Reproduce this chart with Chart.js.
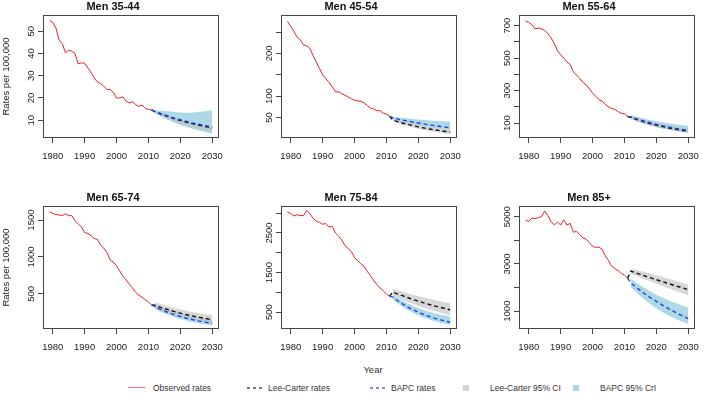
<!DOCTYPE html>
<html>
<head>
<meta charset="utf-8">
<script src="https://cdn.jsdelivr.net/npm/chart.js@4.4.0/dist/chart.umd.min.js"></script>
<style>
  body { margin: 0; background: #fff; width: 707px; height: 407px; position: relative; overflow: hidden;
         font-family: "Liberation Sans", Arial, sans-serif; color: #222; }
  canvas { position: absolute; }
  .txt { position: absolute; font-size: 8.5px; line-height: 12px; white-space: nowrap; color: #333; }
  .sw { position: absolute; }
</style>
</head>
<body>
<div class="txt" style="left:343px;top:364px;width:60px;text-align:center;font-size:9.5px;">Year</div>

<!-- legend -->
<div class="sw" style="left:128px;top:387px;width:17px;height:0;border-top:1.5px solid #e87070;"></div>
<div class="txt" style="left:153px;top:382px;">Observed rates</div>
<div class="sw" style="left:247px;top:387px;width:16px;height:1.5px;background:repeating-linear-gradient(90deg,#777 0 3px,transparent 3px 6px);"></div>
<div class="txt" style="left:268px;top:382px;">Lee-Carter rates</div>
<div class="sw" style="left:370px;top:387px;width:16px;height:1.5px;background:repeating-linear-gradient(90deg,#8888dd 0 3px,transparent 3px 6px);"></div>
<div class="txt" style="left:391px;top:382px;">BAPC rates</div>
<div class="sw" style="left:463px;top:385px;width:6px;height:6px;background:#d3d3d3;"></div>
<div class="txt" style="left:490px;top:382px;">Lee-Carter 95% CI</div>
<div class="sw" style="left:573px;top:385px;width:6px;height:6px;background:#add8e6;"></div>
<div class="txt" style="left:600px;top:382px;">BAPC 95% CrI</div>

<script>
// ── 연도 (observed 1979-2011, forecast 2012-2030) ──
const obsYears = Array.from({ length: 33 }, (_, i) => 1979 + i);
const fcYears = Array.from({ length: 19 }, (_, i) => 2012 + i);
const xTicks = [1980, 1990, 2000, 2010, 2020, 2030];

// ── Men 35-44 ──
const obs3544 = [54.8, 54.0, 51.5, 46.0, 44.5, 40.3, 41.5, 41.0, 40.0, 35.3, 35.8, 35.6, 33.5, 31.5, 29.0, 27.2, 26.5,
  25.3, 23.8, 23.8, 22.5, 20.0, 20.0, 20.5, 18.5, 17.8, 18.3, 17.0, 16.2, 16.8, 15.3, 14.8, 14.6];
const lc3544 = [13.8, 13.2, 12.7, 12.2, 11.7, 11.2, 10.7, 10.3, 9.9, 9.5, 9.1, 8.7, 8.4, 8.0, 7.7, 7.4, 7.1, 6.8, 6.5];
const lcLo3544 = [13.3, 12.6, 12.0, 11.4, 10.8, 10.2, 9.7, 9.2, 8.7, 8.2, 7.8, 7.4, 7.0, 6.6, 6.2, 5.9, 5.5, 5.2, 4.9];
const lcHi3544 = [14.0, 13.5, 13.0, 12.5, 12.0, 11.6, 11.1, 10.7, 10.3, 9.9, 9.5, 9.2, 8.8, 8.5, 8.2, 7.9, 7.6, 7.3, 7.0];
const bapc3544 = [14.0, 13.4, 12.9, 12.4, 11.9, 11.4, 11.0, 10.6, 10.2, 9.8, 9.4, 9.0, 8.7, 8.4, 8.1, 7.8, 7.5, 7.2, 7.0];
const bapcLo3544 = [13.2, 12.4, 11.6, 10.9, 10.2, 9.6, 9.0, 8.4, 7.9, 7.4, 6.9, 6.5, 6.1, 5.7, 5.3, 5.0, 4.6, 4.3, 4.0];
const bapcHi3544 = [14.6, 14.4, 14.3, 14.1, 14.0, 13.9, 13.7, 13.6, 13.5, 13.4, 13.4, 13.4, 13.5, 13.6, 13.8, 13.9, 14.1, 14.3, 14.6];
const yTicks3544 = [10, 20, 30, 40, 50];
const yLabels3544 = ['10', '20', '30', '40', '50'];

// ── Men 45-54 ──
const obs4554 = [275, 263, 252, 238, 232, 220, 218, 212, 195, 180, 165, 150, 141, 132, 122, 110, 110, 106, 102, 98, 94,
  90, 89, 88, 84, 78, 72, 70, 66, 66, 60, 58, 53];
const lc4554 = [44, 41.6, 39.3, 37.1, 35.1, 33.2, 31.4, 29.7, 28.1, 26.5, 25.1, 23.7, 22.4, 21.2, 20.0, 18.9, 17.9, 16.9, 16.0];
const lcLo4554 = [41, 38.2, 35.6, 33.2, 31.0, 28.9, 27.0, 25.2, 23.6, 22.0, 20.6, 19.2, 17.9, 16.7, 15.5, 14.4, 13.3, 12.2, 11.2];
const lcHi4554 = [47, 45.0, 43.0, 41.1, 39.3, 37.6, 36.0, 34.4, 32.9, 31.5, 30.2, 28.9, 27.7, 26.6, 25.5, 24.5, 23.5, 22.6, 21.7];
const bapc4554 = [49, 47.3, 45.7, 44.1, 42.6, 41.1, 39.7, 38.3, 37.0, 35.7, 34.5, 33.3, 32.1, 31.0, 30.0, 28.9, 27.9, 27.0, 26.0];
const bapcLo4554 = [46, 43.6, 41.4, 39.4, 37.6, 35.9, 34.3, 32.8, 31.4, 30.1, 28.9, 27.8, 26.7, 25.7, 24.7, 23.8, 22.9, 22.0, 21.0];
const bapcHi4554 = [52, 51, 50, 49.2, 48.4, 47.6, 46.8, 46.1, 45.4, 44.7, 44.1, 43.5, 43.0, 42.5, 42.0, 41.6, 41.2, 40.9, 40.6];
const yTicks4554 = [50, 100, 150, 200, 250];
const yLabels4554 = ['50', '100', '', '200', ''];

// ── Men 55-64 ──
const obs5564 = [729, 720, 705, 680, 685, 680, 670, 650, 625, 590, 545, 520, 500, 475, 460, 415, 395, 375, 350, 335, 310,
  285, 265, 245, 235, 215, 200, 190, 185, 170, 160, 158, 140];
const lc5564 = [135, 127.8, 120.9, 114.4, 108.3, 102.5, 97.0, 91.8, 86.8, 82.2, 77.8, 73.6, 69.6, 65.9, 62.4, 59.0, 55.8, 52.8, 50.0];
const lcLo5564 = [124, 116.5, 109.5, 103.0, 96.8, 91.0, 85.6, 80.5, 75.7, 71.2, 66.9, 62.9, 59.1, 55.6, 52.3, 49.2, 46.2, 43.4, 40.8];
const lcHi5564 = [146, 139, 132.5, 126.3, 120.5, 115.0, 109.8, 104.9, 100.2, 95.8, 91.6, 87.6, 83.8, 80.2, 76.8, 73.6, 70.5, 67.6, 65.0];
const bapc5564 = [138, 131.1, 124.6, 118.4, 112.5, 106.9, 101.6, 96.5, 91.7, 87.1, 82.8, 78.7, 74.8, 71.0, 67.5, 64.1, 60.9, 57.9, 55.0];
const bapcLo5564 = [126, 118, 110.5, 103.5, 97.0, 90.9, 85.2, 79.9, 74.9, 70.2, 65.8, 61.7, 57.8, 54.2, 50.8, 47.6, 44.6, 41.8, 39.0];
const bapcHi5564 = [150, 144, 138.5, 133.3, 128.4, 123.8, 119.4, 115.3, 111.4, 107.7, 104.2, 100.9, 97.8, 94.9, 92.2, 89.6, 87.2, 85.0, 83.0];
const yTicks5564 = [100, 200, 300, 400, 500, 600, 700];
const yLabels5564 = ['100', '', '300', '', '500', '', '700'];

// ── Men 65-74 ──
const obs6574 = [1614, 1590, 1575, 1570, 1560, 1585, 1560, 1560, 1490, 1450, 1410, 1330, 1320, 1290, 1250, 1240, 1160,
  1120, 1060, 960, 930, 880, 810, 740, 690, 630, 580, 520, 480, 455, 420, 390, 350];
const lc6574 = [345, 329, 314, 300, 287, 274, 261, 250, 238, 228, 217, 208, 198, 189, 181, 172, 165, 157, 150];
const lcLo6574 = [305, 289, 274, 260, 246, 233, 221, 209, 198, 188, 178, 168, 159, 151, 143, 135, 128, 121, 115];
const lcHi6574 = [385, 371, 357, 344, 332, 320, 308, 297, 287, 277, 267, 258, 250, 242, 234, 227, 220, 214, 210];
const bapc6574 = [325, 304, 285, 267, 250, 234, 219, 206, 193, 180, 169, 158, 148, 139, 130, 122, 114, 107, 100];
const bapcLo6574 = [295, 273, 253, 234, 217, 201, 186, 172, 159, 147, 136, 126, 116, 107, 99, 91, 84, 77, 70];
const bapcHi6574 = [355, 337, 320, 304, 289, 275, 262, 249, 237, 226, 215, 205, 195, 186, 177, 169, 161, 154, 147];
const yTicks6574 = [500, 1000, 1500];
const yLabels6574 = ['500', '1000', '1500'];

// ── Men 75-84 ──
const obs7584 = [3028, 2990, 2930, 2960, 2940, 2940, 3070, 2990, 2870, 2800, 2770, 2720, 2740, 2650, 2670, 2500, 2420,
  2320, 2180, 2110, 2030, 1880, 1800, 1720, 1660, 1530, 1420, 1300, 1200, 1110, 1040, 960, 900];
const lc7584 = [1010, 977, 946, 916, 886, 858, 830, 803, 777, 752, 728, 705, 682, 660, 639, 618, 598, 579, 560];
const lcLo7584 = [930, 890, 852, 816, 781, 748, 716, 685, 656, 628, 601, 575, 551, 527, 505, 483, 463, 443, 425];
const lcHi7584 = [1085, 1060, 1036, 1012, 990, 968, 946, 925, 904, 884, 864, 845, 826, 808, 790, 772, 755, 737, 720];
const bapc7584 = [880, 820, 764, 711, 663, 617, 575, 536, 499, 465, 433, 403, 376, 350, 326, 304, 283, 263, 245];
const bapcLo7584 = [820, 755, 695, 639, 588, 541, 497, 457, 420, 386, 355, 326, 299, 275, 252, 231, 212, 194, 175];
const bapcHi7584 = [940, 888, 839, 793, 750, 710, 673, 638, 606, 576, 548, 522, 498, 476, 456, 437, 420, 405, 392];
const yTicks7584 = [500, 1000, 1500, 2000, 2500, 3000];
const yLabels7584 = ['500', '', '1500', '', '2500', ''];

// ── Men 85+ ──
const obs85 = [4857, 4800, 4950, 4920, 4960, 5000, 5250, 5050, 4800, 4650, 4780, 4650, 4870, 4650, 4720, 4350, 4380,
  4250, 4100, 4050, 3900, 3750, 3700, 3720, 3620, 3350, 3150, 2900, 2800, 2720, 2600, 2520, 2400];
const lc85 = [2700, 2652, 2604, 2558, 2512, 2466, 2421, 2377, 2333, 2289, 2246, 2203, 2160, 2118, 2076, 2034, 1993, 1952, 1910];
const lcLo85 = [2580, 2527, 2474, 2422, 2370, 2318, 2266, 2215, 2164, 2113, 2063, 2013, 1963, 1913, 1864, 1815, 1766, 1717, 1660];
const lcHi85 = [2800, 2768, 2735, 2701, 2666, 2630, 2594, 2557, 2520, 2482, 2444, 2405, 2366, 2327, 2288, 2248, 2208, 2168, 2128];
const bapc85 = [2200, 2085, 1975, 1870, 1770, 1675, 1585, 1500, 1415, 1330, 1248, 1168, 1090, 1015, 943, 874, 808, 745, 685];
const bapcLo85 = [2020, 1885, 1757, 1636, 1522, 1414, 1312, 1215, 1124, 1038, 957, 880, 808, 740, 676, 615, 558, 504, 452];
const bapcHi85 = [2380, 2280, 2185, 2094, 2007, 1924, 1845, 1770, 1698, 1630, 1566, 1505, 1447, 1392, 1340, 1290, 1243, 1198, 1155];
const yTicks85 = [1000, 2000, 3000, 4000, 5000];
const yLabels85 = ['1000', '', '3000', '', '5000'];

const FONT = '"Liberation Sans", Arial, sans-serif';

const panels = [
  { title: 'Men 35-44', obs: obs3544, lc: lc3544, lcLo: lcLo3544, lcHi: lcHi3544, bapc: bapc3544, bapcLo: bapcLo3544, bapcHi: bapcHi3544, yTicks: yTicks3544, yLabels: yLabels3544, yMin: 2, yMax: 57.3 },
  { title: 'Men 45-54', obs: obs4554, lc: lc4554, lcLo: lcLo4554, lcHi: lcHi4554, bapc: bapc4554, bapcLo: bapcLo4554, bapcHi: bapcHi4554, yTicks: yTicks4554, yLabels: yLabels4554, yMin: 2, yMax: 290 },
  { title: 'Men 55-64', obs: obs5564, lc: lc5564, lcLo: lcLo5564, lcHi: lcHi5564, bapc: bapc5564, bapcLo: bapcLo5564, bapcHi: bapcHi5564, yTicks: yTicks5564, yLabels: yLabels5564, yMin: 8, yMax: 765 },
  { title: 'Men 65-74', obs: obs6574, lc: lc6574, lcLo: lcLo6574, lcHi: lcHi6574, bapc: bapc6574, bapcLo: bapcLo6574, bapcHi: bapcHi6574, yTicks: yTicks6574, yLabels: yLabels6574, yMin: 23, yMax: 1691 },
  { title: 'Men 75-84', obs: obs7584, lc: lc7584, lcLo: lcLo7584, lcHi: lcHi7584, bapc: bapc7584, bapcLo: bapcLo7584, bapcHi: bapcHi7584, yTicks: yTicks7584, yLabels: yLabels7584, yMin: 75, yMax: 3181 },
  { title: 'Men 85+', obs: obs85, lc: lc85, lcLo: lcLo85, lcHi: lcHi85, bapc: bapc85, bapcLo: bapcLo85, bapcHi: bapcHi85, yTicks: yTicks85, yLabels: yLabels85, yMin: 243, yMax: 5457 },
];

/* ── R 스타일 박스 + 세로 눈금 라벨 ── */
function rFrame(labels) {
  return {
    id: 'rFrame',
    afterDraw(chart) {
      const { ctx, chartArea: a } = chart;
      const y = chart.scales.y;
      ctx.save();
      ctx.strokeStyle = '#444';
      ctx.lineWidth = 1;
      ctx.strokeRect(Math.round(a.left) + 0.5, Math.round(a.top) + 0.5, Math.round(a.width) - 1, Math.round(a.height) - 1);
      ctx.fillStyle = '#222';
      ctx.font = '9.5px ' + FONT;
      ctx.textAlign = 'center';
      ctx.textBaseline = 'middle';
      y.ticks.forEach((t, i) => {
        if (!labels[i]) return;
        ctx.save();
        ctx.translate(a.left - 12, y.getPixelForValue(t.value));
        ctx.rotate(-Math.PI / 2);
        ctx.fillText(labels[i], 0, 0);
        ctx.restore();
      });
      ctx.restore();
    },
  };
}

const pts = (xs, ys) => ys.map((v, i) => ({ x: xs[i], y: v }));

panels.forEach((p, k) => {
  const col = k % 3, row = Math.floor(k / 3);
  const cv = document.createElement('canvas');
  cv.width = 231; cv.height = 173;
  cv.style.left = (col * 238) + 'px';
  cv.style.top = (row * 191) + 'px';
  document.body.appendChild(cv);

  const lastObs = { x: 2011, y: p.obs[p.obs.length - 1] };
  const band = (data, color, order, fill) => ({
    data: pts(fcYears, data), borderWidth: 0, pointRadius: 0, backgroundColor: color, fill, order,
  });
  const grid = { display: true, drawOnChartArea: false, drawTicks: true, tickLength: 5, color: '#444' };

  new Chart(cv, {
    type: 'line',
    data: {
      datasets: [
        band(p.bapcLo, 'rgba(173,216,230,1)', 7, false),
        band(p.bapcHi, 'rgba(173,216,230,1)', 6, '-1'),
        band(p.lcLo, 'rgba(190,190,190,0.62)', 5, false),
        band(p.lcHi, 'rgba(190,190,190,0.62)', 4, '-1'),
        { data: pts(obsYears, p.obs), borderColor: '#e82020', borderWidth: 1, pointRadius: 0, fill: false, order: 3 },
        { data: [lastObs, ...pts(fcYears, p.lc)], borderColor: '#111', borderWidth: 1.4, borderDash: [4, 3], pointRadius: 0, fill: false, order: 2 },
        { data: [lastObs, ...pts(fcYears, p.bapc)], borderColor: '#2244dd', borderWidth: 1.4, borderDash: [4, 3], pointRadius: 0, fill: false, order: 1 },
      ],
    },
    options: {
      responsive: false,
      animation: false,
      devicePixelRatio: 1,
      layout: { padding: { left: 0, top: 0, right: 5, bottom: 0 } },
      plugins: {
        legend: { display: false },
        tooltip: { enabled: false },
        title: {
          display: true, text: p.title, color: '#111',
          font: { size: 11, weight: 'bold', family: FONT },
          padding: { top: 0, bottom: 1.8 },
        },
      },
      scales: {
        x: {
          type: 'linear', min: 1976.96, max: 2032.04,
          afterBuildTicks: (s) => { s.ticks = xTicks.map((v) => ({ value: v })); },
          afterFit: (s) => { s.height = 35; },
          grid, border: { display: false },
          ticks: { color: '#222', font: { size: 9.5, family: FONT }, padding: 8, maxRotation: 0, autoSkip: false, callback: (v) => String(v) },
        },
        y: {
          type: 'linear', min: p.yMin, max: p.yMax,
          afterBuildTicks: (s) => { s.ticks = p.yTicks.map((v) => ({ value: v })); },
          afterFit: (s) => { s.width = 43; },
          grid, border: { display: false },
          ticks: { display: false },
          title: {
            display: col === 0, text: 'Rates per 100,000', color: '#222', padding: 0.5,
            font: { size: 9.5, family: FONT },
          },
        },
      },
    },
    plugins: [rFrame(p.yLabels)],
  });
});
</script>
</body>
</html>
